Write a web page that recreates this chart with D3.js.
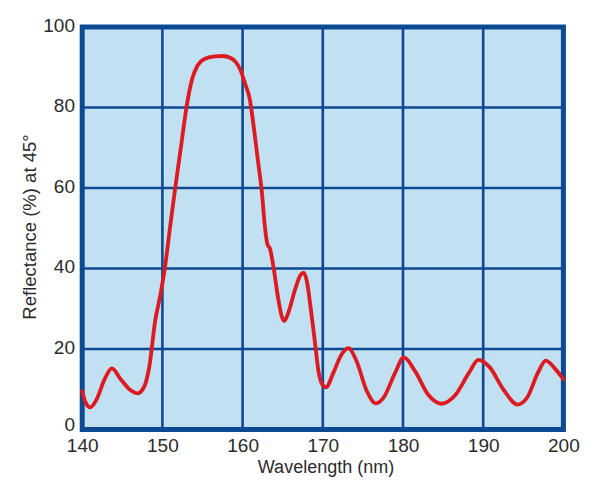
<!DOCTYPE html>
<html>
<head>
<meta charset="utf-8">
<script src="https://cdn.jsdelivr.net/npm/d3@7"></script>
<style>
  html, body { margin: 0; padding: 0; background: #ffffff; }
  svg { display: block; }
  text { font-family: "Liberation Sans", Arial, sans-serif; fill: #2b2b2b; }
</style>
</head>
<body>
<svg id="chart" width="600" height="494"></svg>
<script>
const xTicks = [140, 150, 160, 170, 180, 190, 200];
const yTicks = [0, 20, 40, 60, 80, 100];
const xLabel = "Wavelength (nm)";
const yLabel = "Reflectance (%) at 45°";

const wavelength = [140, 140.4, 141.0, 141.8, 142.8, 143.7, 144.8, 146.0, 146.9, 147.7, 148.4, 149.1, 149.7, 150.3, 151.0, 151.6, 152.3, 153.0, 153.7, 154.4, 155.2, 156.5, 157.5, 158.5, 159.1, 159.7, 160.3, 160.9, 161.4, 161.9, 162.4, 162.8, 163.1, 163.4, 163.8, 164.4, 164.9, 165.2, 165.7, 166.5, 167.2, 167.6, 168.0, 168.5, 169.0, 169.5, 170.0, 170.4, 171.3, 172.3, 173.2, 174.2, 175.5, 176.6, 177.6, 179.0, 180.1, 181.5, 183.2, 184.8, 186.5, 188.2, 189.4, 190.8, 192.5, 194.3, 195.5, 196.8, 197.8, 199.0, 200];
const reflectance = [9.5, 6.8, 5.5, 7.5, 12.5, 15.2, 12.5, 9.8, 9.0, 10.5, 16, 27, 33, 40, 51, 60, 70, 80, 87, 90.5, 92, 92.7, 92.8, 92.3, 91.4, 89.5, 86, 82, 75, 67, 59, 50, 46, 45, 41, 33, 28, 27, 29, 34.5, 38.3, 39, 37, 30, 22, 14, 11, 10.5, 14, 18.5, 20.2, 17, 9.5, 6.5, 8, 14, 17.9, 14.5, 8.5, 6.4, 8.5, 14, 17.3, 15.5, 10, 6.2, 8, 14, 17.1, 15, 12.5];

const data = wavelength.map((w, i) => ({ w, r: reflectance[i] }));

const svg = d3.select("#chart");
const x = d3.scaleLinear().domain([140, 200]).range([82.2, 563.4]);
const y = d3.scaleLinear().domain([0, 100]).range([429.5, 27]);

const dark = "#0d4a93";

// plot background
svg.append("rect")
  .attr("x", x(140)).attr("y", y(100))
  .attr("width", x(200) - x(140)).attr("height", y(0) - y(100))
  .attr("fill", "#c1e0f1");

// grid lines
svg.append("g").selectAll("line").data(xTicks.slice(1, -1)).join("line")
  .attr("x1", d => x(d)).attr("x2", d => x(d))
  .attr("y1", y(0)).attr("y2", y(100))
  .attr("stroke", dark).attr("stroke-width", 2.6);
svg.append("g").selectAll("line").data(yTicks.slice(1, -1)).join("line")
  .attr("y1", d => y(d)).attr("y2", d => y(d))
  .attr("x1", x(140)).attr("x2", x(200))
  .attr("stroke", dark).attr("stroke-width", 2.6);

// frame
svg.append("rect")
  .attr("x", x(140)).attr("y", y(100))
  .attr("width", x(200) - x(140)).attr("height", y(0) - y(100))
  .attr("fill", "none").attr("stroke", dark).attr("stroke-width", 5);

// curve
const line = d3.line().x(d => x(d.w)).y(d => y(d.r)).curve(d3.curveMonotoneX);
svg.append("path").datum(data)
  .attr("d", line)
  .attr("fill", "none")
  .attr("stroke", "#dd1a20")
  .attr("stroke-width", 3.8)
  .attr("stroke-linejoin", "round")
  .attr("stroke-linecap", "round");

// axes (labels only)
const xAxis = d3.axisBottom(x).tickValues(xTicks).tickSize(0).tickPadding(0).tickFormat(d3.format("d"));
const gx = svg.append("g").attr("transform", `translate(0,${y(0)})`).call(xAxis);
gx.select(".domain").remove();
gx.selectAll("text").attr("dy", null).attr("y", 22).style("font-size", "19px").style("font-family", "'Liberation Sans', Arial, sans-serif").attr("fill", "#2b2b2b");

const yAxis = d3.axisLeft(y).tickValues(yTicks).tickSize(0).tickPadding(0).tickFormat(d3.format("d"));
const gy = svg.append("g").attr("transform", "translate(75,0)").call(yAxis);
gy.select(".domain").remove();
gy.selectAll("text").attr("x", 0).attr("dy", "0.34em").style("font-size", "19px").style("font-family", "'Liberation Sans', Arial, sans-serif").attr("fill", "#2b2b2b");
gy.selectAll(".tick").attr("transform", d => `translate(0,${y(d) - (d === 0 ? 5 : 1.5)})`);

svg.append("text")
  .attr("x", 326).attr("y", 473)
  .attr("text-anchor", "middle")
  .style("font-size", "18px")
  .text(xLabel);

svg.append("text")
  .attr("transform", "translate(36,227) rotate(-90)")
  .attr("text-anchor", "middle")
  .style("font-size", "18.5px")
  .text(yLabel);
</script>
</body>
</html>
